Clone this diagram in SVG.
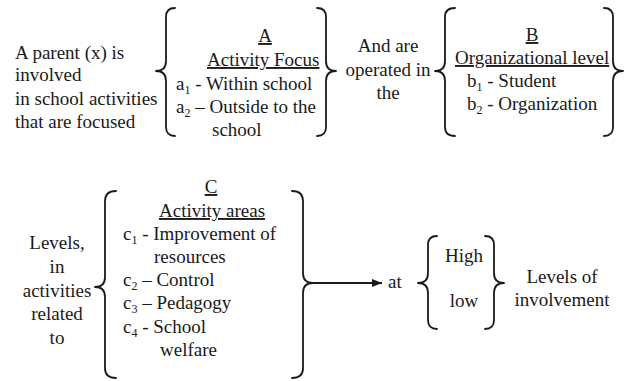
<svg xmlns="http://www.w3.org/2000/svg" width="628" height="381" viewBox="0 0 628 381">
<defs>
<style>
text{font-family:"Liberation Serif","Times New Roman",serif;font-size:19px;fill:#1a1a1a}
.u{text-decoration:underline}
.m{text-anchor:middle}
.br{fill:none;stroke:#1a1a1a;stroke-width:1.8;stroke-linecap:round;stroke-linejoin:round}
.sub{font-size:12px}
</style>
<marker id="ah" viewBox="0 0 10 10" refX="10" refY="5" markerWidth="10" markerHeight="10" markerUnits="userSpaceOnUse" orient="auto">
<path d="M0,1 L10,5 L0,9 z" fill="#1a1a1a"/>
</marker>
</defs>
<rect width="628" height="381" fill="#fff"/>

<g id="intro">
<text x="15" y="59">A parent (x) is</text>
<text x="15" y="81">involved</text>
<text x="15" y="105">in school activities</text>
<text x="15" y="128">that are focused</text>
</g>

<g id="nodeA">
<path class="br" d="M175,8 Q166,8 166,17 L166,61 Q166,71 156,71 Q166,71 166,81 L166,127 Q166,136 175,136"/>
<path class="br" d="M317,8 Q326,8 326,17 L326,61 Q326,71 336,71 Q326,71 326,81 L326,127 Q326,136 317,136"/>
<text x="265" y="42" class="m u">A</text>
<text x="207" y="66" class="u">Activity Focus</text>
<text x="176" y="90">a<tspan class="sub" dy="4">1</tspan><tspan dy="-4"> - Within school</tspan></text>
<text x="176" y="113">a<tspan class="sub" dy="4">2</tspan><tspan dy="-4"> – Outside to the</tspan></text>
<text x="212" y="136">school</text>
</g>

<g id="middle">
<text x="388" y="52" class="m">And are</text>
<text x="388" y="76" class="m">operated in</text>
<text x="388" y="99" class="m">the</text>
</g>

<g id="nodeB">
<path class="br" d="M455,8 Q445,8 445,17 L445,61 Q445,71 435,71 Q445,71 445,81 L445,127 Q445,136 455,136"/>
<path class="br" d="M604,8 Q613,8 613,17 L613,61 Q613,71 623,71 Q613,71 613,81 L613,127 Q613,136 604,136"/>
<text x="532" y="41" class="m u">B</text>
<text x="455" y="64" class="u">Organizational level</text>
<text x="467" y="87">b<tspan class="sub" dy="4">1</tspan><tspan dy="-4"> - Student</tspan></text>
<text x="467" y="110">b<tspan class="sub" dy="4">2</tspan><tspan dy="-4"> - Organization</tspan></text>
</g>

<g id="levelsText">
<text x="57" y="249" class="m">Levels,</text>
<text x="57" y="273" class="m">in</text>
<text x="57" y="297" class="m">activities</text>
<text x="57" y="320" class="m">related</text>
<text x="57" y="344" class="m">to</text>
</g>

<g id="nodeC">
<path class="br" d="M116,191 Q105,191 105,201 L105,277 Q105,287 95,287 Q105,287 105,297 L105,368 Q105,378 116,378"/>
<path class="br" d="M292,191 Q303,191 303,201 L303,273 Q303,283 313,283 Q303,283 303,293 L303,368 Q303,378 292,378"/>
<text x="211" y="193" class="m u">C</text>
<text x="159" y="217" class="u">Activity areas</text>
<text x="123" y="240">c<tspan class="sub" dy="4">1</tspan><tspan dy="-4"> - Improvement of</tspan></text>
<text x="154" y="263">resources</text>
<text x="123" y="286">c<tspan class="sub" dy="4">2</tspan><tspan dy="-4"> – Control</tspan></text>
<text x="123" y="309">c<tspan class="sub" dy="4">3</tspan><tspan dy="-4"> – Pedagogy</tspan></text>
<text x="123" y="333">c<tspan class="sub" dy="4">4</tspan><tspan dy="-4"> - School</tspan></text>
<text x="160" y="356">welfare</text>
</g>

<g id="connectors">
<line x1="313" y1="283" x2="382" y2="283" stroke="#1a1a1a" stroke-width="1.8" marker-end="url(#ah)"/>
</g>

<g id="nodeAt">
<text x="388" y="288">at</text>
</g>

<g id="nodeLevels">
<path class="br" d="M437,236 Q428,236 428,245 L428,273 Q428,283 418,283 Q428,283 428,293 L428,320 Q428,329 437,329"/>
<path class="br" d="M485,236 Q494,236 494,245 L494,273 Q494,283 504,283 Q494,283 494,293 L494,320 Q494,329 485,329"/>
<text x="464" y="262" class="m">High</text>
<text x="464" y="307" class="m">low</text>
</g>

<g id="involvement">
<text x="562" y="283" class="m">Levels of</text>
<text x="562" y="306" class="m">involvement</text>
</g>
</svg>
